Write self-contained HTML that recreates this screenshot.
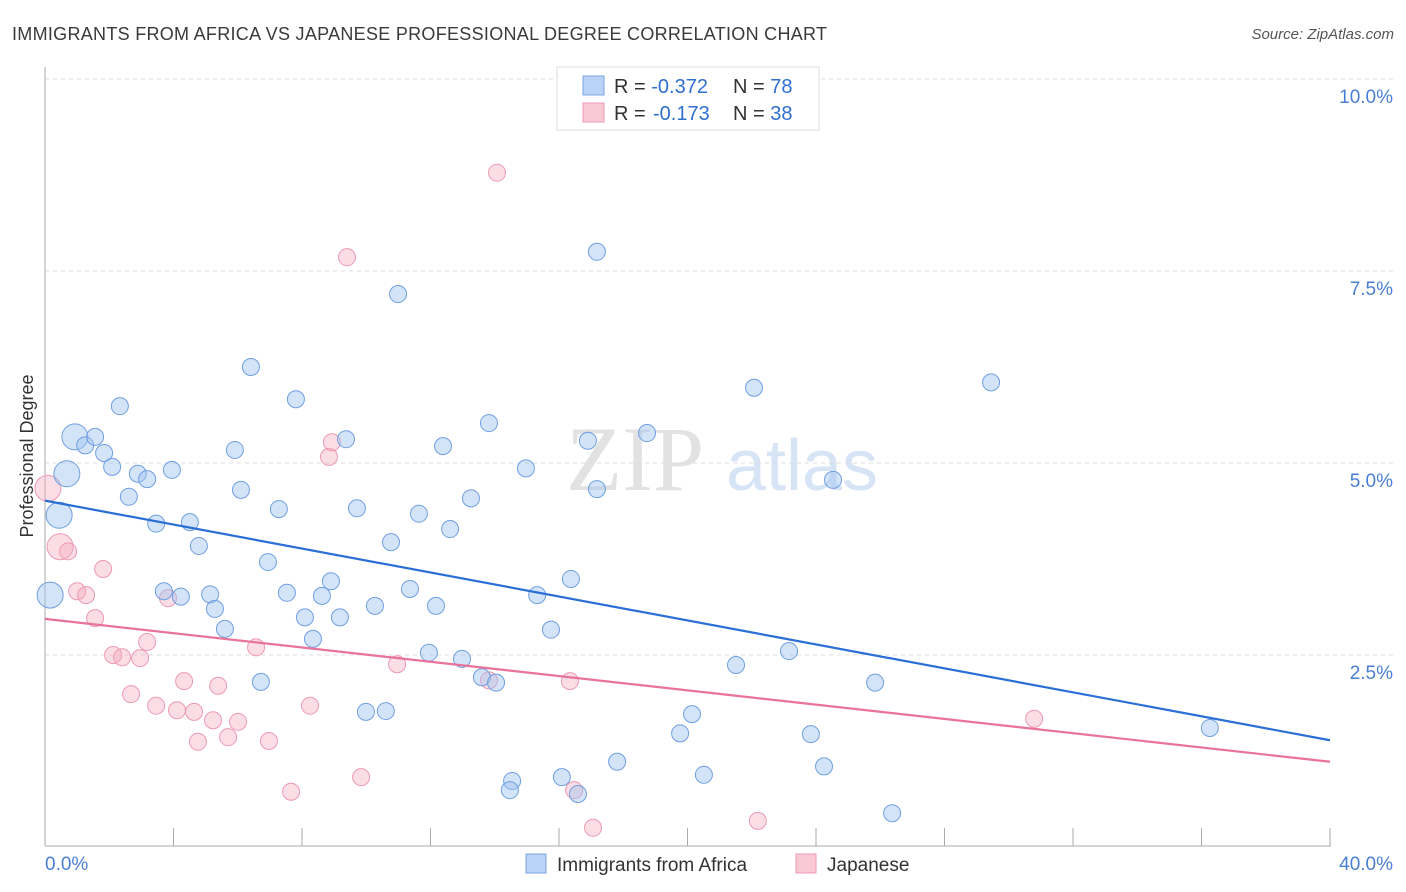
<!DOCTYPE html>
<html><head><meta charset="utf-8"><style>
body{margin:0;background:#fff;font-family:"Liberation Sans",sans-serif;}
svg{display:block}
</style></head><body>
<svg id="chart" width="1406" height="892">
<text x="12" y="40" font-size="18" fill="#3a3a3a" textLength="815">IMMIGRANTS FROM AFRICA VS JAPANESE PROFESSIONAL DEGREE CORRELATION CHART</text>
<text x="1394" y="39" font-size="15" fill="#555" font-style="italic" text-anchor="end">Source: ZipAtlas.com</text>
<text transform="translate(33,456) rotate(-90)" font-size="18" fill="#333" text-anchor="middle">Professional Degree</text>
<g>
<text x="635" y="490" font-size="92" fill="#e2e2e2" font-family="Liberation Serif,serif" text-anchor="middle">ZIP</text>
<text x="802" y="490" font-size="72" fill="#d6e4f5" text-anchor="middle">atlas</text>
</g>
<g id="grid"></g><g id="axes"></g><g id="marks"></g>
<g>
<rect x="557" y="67" width="262" height="63" fill="#fff" stroke="#ddd"/>
<rect x="583" y="76" width="21" height="19" fill="#b8d3f5" stroke="#7aa6e0"/>
<rect x="583" y="103" width="21" height="19" fill="#f9c9d6" stroke="#eb9ab2"/>
<text x="614" y="93" font-size="20" fill="#333">R = <tspan fill="#2f6fd0">-0.372</tspan><tspan x="733">N = </tspan><tspan fill="#2f6fd0">78</tspan></text>
<text x="614" y="120" font-size="20" fill="#333">R = <tspan x="653" fill="#2f6fd0">-0.173</tspan><tspan x="733">N = </tspan><tspan fill="#2f6fd0">38</tspan></text>
</g>
<g>
<rect x="526" y="854" width="20" height="19" fill="#b8d3f5" stroke="#7aa6e0"/>
<text x="557" y="871" font-size="19" fill="#333">Immigrants from Africa</text>
<rect x="796" y="854" width="20" height="19" fill="#f9c9d6" stroke="#eb9ab2"/>
<text x="827" y="871" font-size="19" fill="#333">Japanese</text>
</g>
</svg>
<script>
const yTicks=[2.5,5.0,7.5,10.0];
const yTickLabels=["2.5%","5.0%","7.5%","10.0%"];
const xTickLabels=["0.0%","40.0%"];
const africaX=[0.93,1.25,1.56,1.84,2.09,0.68,0.44,0.16,2.33,2.61,2.89,3.18,3.46,3.70,3.95,4.23,4.51,4.79,5.14,5.29,5.60,5.91,6.10,6.41,6.72,6.94,7.28,7.53,7.81,8.09,8.34,8.62,8.90,9.18,9.37,9.71,9.99,10.27,10.61,10.77,10.99,11.36,11.64,11.95,12.17,12.39,12.61,12.98,13.26,13.60,13.82,14.04,14.54,14.47,14.97,15.32,15.75,16.09,16.37,16.59,16.90,17.18,17.18,17.81,18.74,19.77,20.14,20.51,21.51,22.07,23.16,23.84,24.25,24.53,25.84,26.37,29.45,36.26];
const africaY=[5.34,5.23,5.34,5.13,4.95,4.86,4.32,3.28,5.74,4.56,4.86,4.79,4.21,3.33,4.91,3.26,4.23,3.92,3.29,3.10,2.84,5.17,4.65,6.25,2.15,3.71,4.40,3.31,5.83,2.99,2.71,3.27,3.46,2.99,5.31,4.41,1.76,3.14,1.77,3.97,7.20,3.36,4.34,2.53,3.14,5.22,4.14,2.45,4.54,2.21,5.52,2.14,0.86,0.74,4.93,3.28,2.83,0.91,3.49,0.69,5.29,7.75,4.66,1.11,5.39,1.48,1.73,0.94,2.37,5.98,2.55,1.47,1.05,4.78,2.14,0.44,6.05,1.55];
const africaBig=[0,5,6,7];
const japanX=[0.09,0.47,0.72,1.00,1.28,1.56,1.81,2.12,2.40,2.96,3.18,2.68,3.46,3.83,4.11,4.33,4.64,4.76,5.23,5.39,5.70,6.01,6.57,6.97,7.66,8.25,8.84,8.93,9.40,9.84,10.96,13.82,14.07,16.34,16.47,17.06,22.19,30.79];
const japanY=[4.67,3.91,3.85,3.33,3.28,2.98,3.62,2.50,2.47,2.46,2.67,1.99,1.84,3.24,1.78,2.16,1.76,1.37,1.65,2.10,1.43,1.63,2.60,1.38,0.72,1.84,5.08,5.27,7.68,0.91,2.38,2.17,8.78,2.16,0.74,0.25,0.34,1.67];
const japanBig=[0,1];
const africaTrend=[4.51,1.39];
const japanTrend=[2.97,1.11];
const NS="http://www.w3.org/2000/svg";
const sx=v=>45+v/40*1285, sy=v=>847-v/10*768;
function mk(t,a,p){const e=document.createElementNS(NS,t);for(const k in a)e.setAttribute(k,a[k]);p.appendChild(e);return e;}
const grid=document.getElementById('grid'),axes=document.getElementById('axes'),marks=document.getElementById('marks');
yTicks.forEach((v,i)=>{
 const l=mk('line',{x1:45,x2:1394,y1:sy(v),y2:sy(v),stroke:'#dddddd','stroke-dasharray':'4,4'},grid);
 
 
 const t=mk('text',{x:1393,y:sy(v)+24,'font-size':19,fill:'#4a7fd4','text-anchor':'end'},axes);
 t.textContent=yTickLabels[i];
 
 
});
let ya=mk('line',{x1:45,x2:45,y1:67,y2:846,stroke:'#aaa'},axes);


let xa=mk('line',{x1:45,x2:1331,y1:846,y2:846,stroke:'#aaa'},axes);


for(let i=1;i<=10;i++){const tk=mk('line',{x1:sx(i*4),x2:sx(i*4),y1:828,y2:846,stroke:'#aaa'},axes);
 
 }
[[0,45,'start'],[40,1393,'end']].forEach((d,i)=>{const t=mk('text',{x:d[1],y:870,'font-size':19,fill:'#4a7fd4','text-anchor':d[2]},axes);t.textContent=xTickLabels[i];
 
 });
function pts(X,Y,big,fill,stroke,name){X.forEach((x,i)=>{const c=mk('circle',{cx:sx(x),cy:sy(Y[i]),r:big.includes(i)?13:8.5,fill:fill,stroke:stroke,'stroke-width':1},marks);
 
 });}
pts(japanX,japanY,japanBig,'rgba(246,170,192,0.4)','#ec9ab2','japanese-point');
pts(africaX,africaY,africaBig,'rgba(160,196,240,0.45)','#6f9fe0','africa-point');
let l1=mk('line',{x1:sx(0),y1:sy(africaTrend[0]),x2:sx(40),y2:sy(africaTrend[1]),stroke:'#2a6fd6','stroke-width':2.2},marks);


let l2=mk('line',{x1:sx(0),y1:sy(japanTrend[0]),x2:sx(40),y2:sy(japanTrend[1]),stroke:'#e8739a','stroke-width':2.2},marks);


</script>
</body></html>
